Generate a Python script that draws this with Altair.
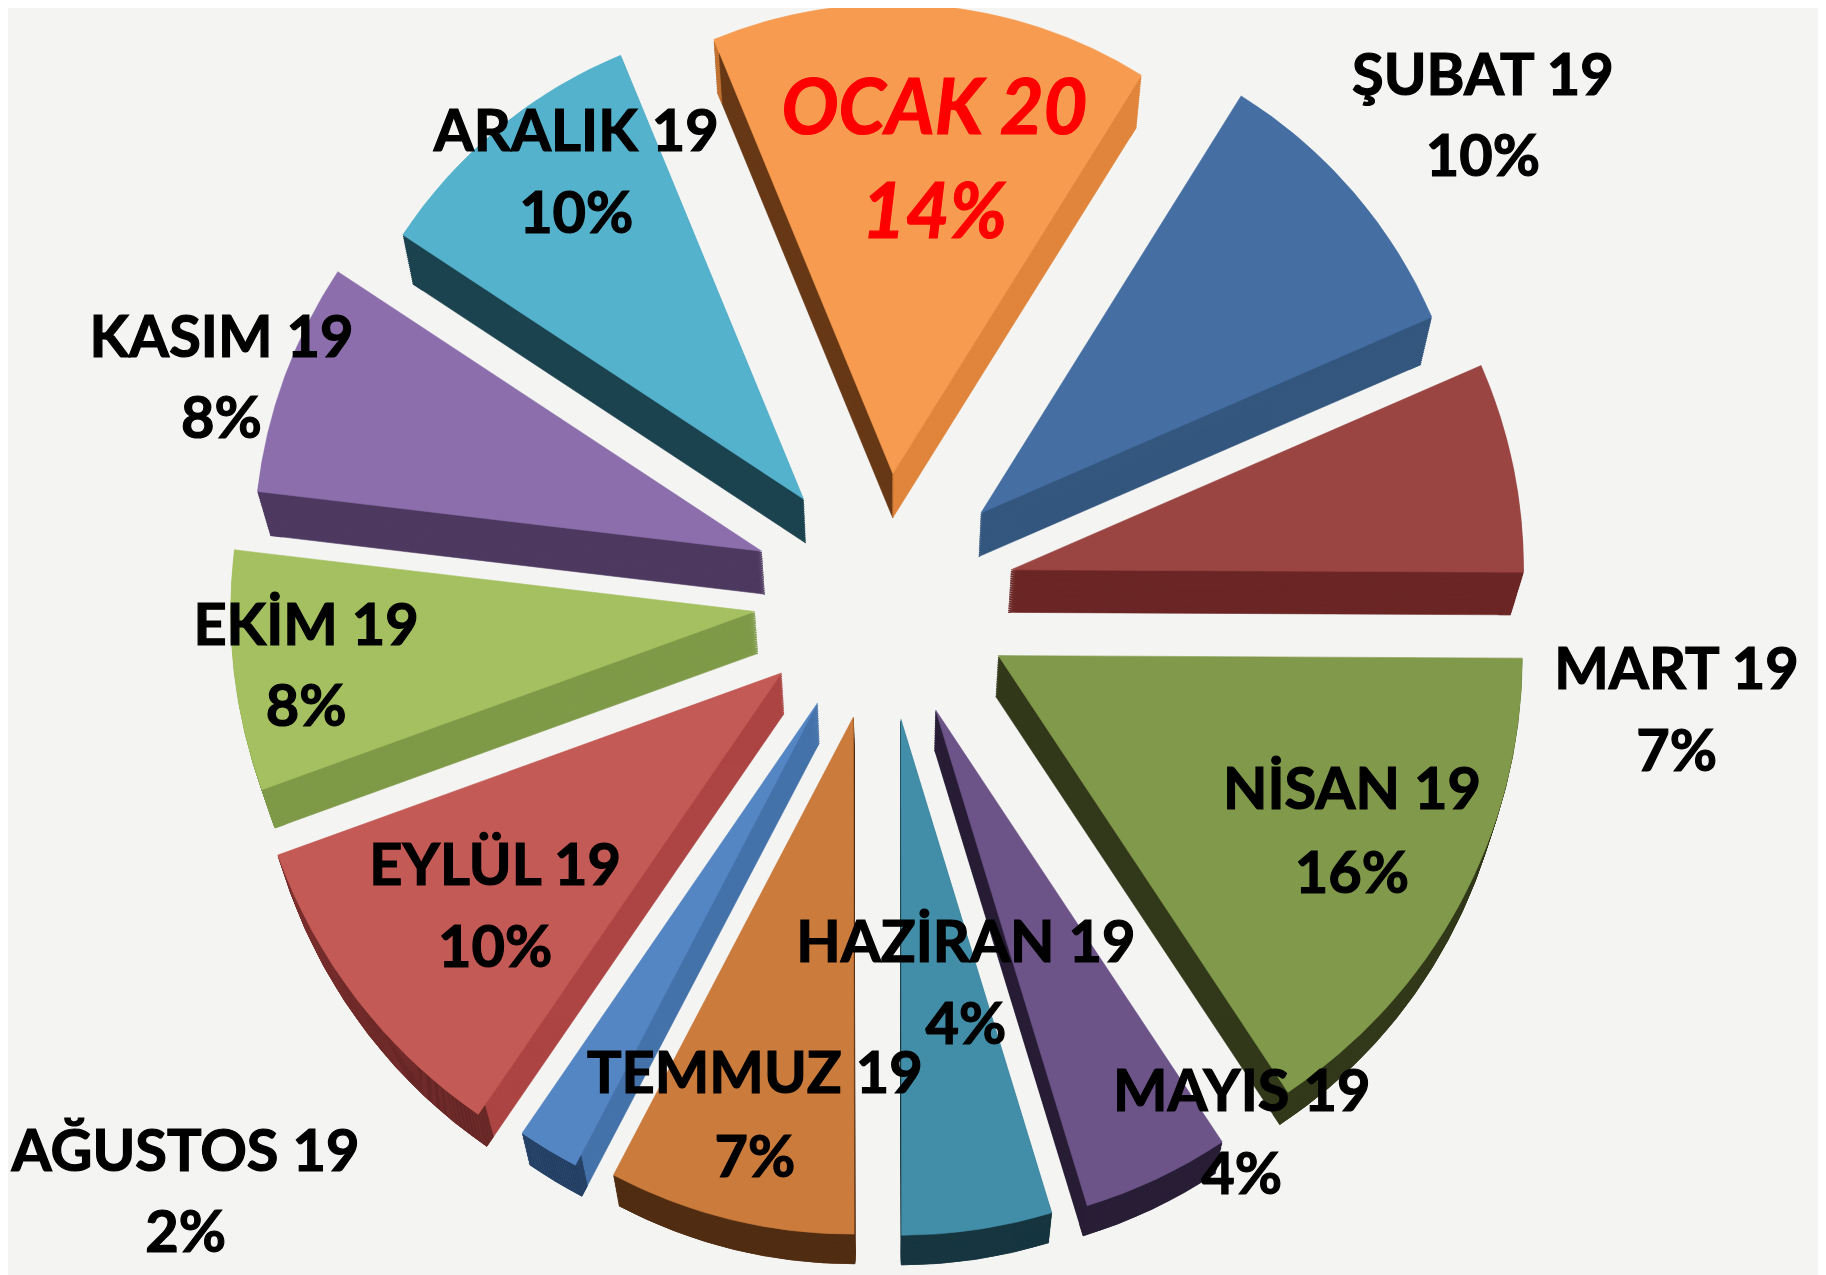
import math
import altair as alt
import pandas as pd

W, H = 1818, 1267
K = 1826 / 1568  # reference was read at 1568 wide

months = ["OCAK 20", "ŞUBAT 19", "MART 19", "NİSAN 19", "MAYIS 19", "HAZİRAN 19",
          "TEMMUZ 19", "AĞUSTOS 19", "EYLÜL 19", "EKİM 19", "KASIM 19", "ARALIK 19"]
percent_labels = ["14%", "10%", "7%", "16%", "4%", "4%", "7%", "2%", "10%", "8%", "8%", "10%"]
values = [15.1, 9.6, 6.6, 15.6, 4.6, 4.7, 7.7, 1.9, 9.9, 7.4, 7.4, 9.5]

apex_x = [767, 843, 869, 858, 804, 774, 733, 702, 671, 648, 654, 690]
apex_y = [406, 440, 489, 563, 610, 618, 616, 604, 578, 525, 473, 428]
radii = [405, 424, 442, 452, 447, 445, 446, 450, 462, 452, 438, 414]

top_colors = ["#f79b50", "#456fa3", "#9a4542", "#80994a", "#6c5388", "#428ea8",
              "#cb7c3c", "#5586c4", "#c45a55", "#a4c060", "#8b6eab", "#54b2cd"]
wall_start = ["#693a17", "#34577f", "#6b2625", "#333a1b", "#291f36", "#173640",
              "#512d13", "#4573aa", "#ac4644", "#7f9a48", "#4e3a60", "#1c4450"]
wall_end = ["#e0863c", "#34577f", "#6b2625", "#333a1b", "#291f36", "#173640",
            "#512d13", "#4573aa", "#ac4644", "#7f9a48", "#4e3a60", "#1c4450"]
wall_outer = ["#e0863c", "#34577f", "#6b2625", "#333a1b", "#291f36", "#173640",
              "#512d13", "#1e3553", "#5c2322", "#7f9a48", "#4e3a60", "#1c4450"]

name_x = [803, 1276, 1443, 1163, 1068, 830, 648, 157, 424, 261, 188, 494]
name_y = [90, 62, 574, 678, 938, 810, 923, 990, 743, 536, 288, 110]
pct_y = [180, 132, 645, 750, 1010, 880, 995, 1060, 814, 606, 358, 181]

START_DEG = -22.4
DEPTH_STEPS = 24


def bottom(px, py, r):
    return px - 0.023 * (px - 765 * K), py - 0.018 * (py - 2530 * K), r * 0.98


tops, walls = [], []
cum = 0.0
for i, v in enumerate(values):
    a, b = cum, cum + v
    cum = b
    px, py, r = apex_x[i] * K, apex_y[i] * K, radii[i] * K
    tops.append(dict(x=px, y=py, a=a, b=b, r0=0, r=r, c=top_colors[i]))
    bx, by, br = bottom(px, py, r)
    for s in range(DEPTH_STEPS, 0, -1):
        t = s / DEPTH_STEPS
        x = px + (bx - px) * t
        y = py + (by - py) * t
        rr = r + (br - r) * t
        m = (a + b) / 2
        walls.append(dict(x=x, y=y, a=a, b=m, r0=0, r=rr, c=wall_start[i]))
        walls.append(dict(x=x, y=y, a=m, b=b, r0=0, r=rr, c=wall_end[i]))
        walls.append(dict(x=x, y=y, a=a, b=b, r0=rr - 12, r=rr, c=wall_outer[i]))

x_scale = alt.Scale(domain=[4.5, 4.5 + W], range=[0, W], nice=False, zero=False)
y_scale = alt.Scale(domain=[8, 8 + H], range=[0, H], nice=False, zero=False)
start = math.radians(START_DEG)
theta_scale = alt.Scale(domain=[0, 100], range=[start, start + 2 * math.pi])
radius_scale = alt.Scale(type="linear", domain=[0, 700], range=[0, 700], zero=True)


def arcs(rows):
    return alt.Chart(pd.DataFrame(rows)).mark_arc(strokeWidth=0.6).encode(
        x=alt.X("x:Q", scale=x_scale, axis=None),
        y=alt.Y("y:Q", scale=y_scale, axis=None),
        theta=alt.Theta("a:Q", stack=None, scale=theta_scale),
        theta2=alt.Theta2("b:Q"),
        radius=alt.Radius("r:Q", scale=radius_scale),
        radius2=alt.Radius2("r0:Q"),
        color=alt.Color("c:N", scale=None),
        stroke=alt.Stroke("c:N", scale=None),
    )


def text_layer(xs, ys, texts, size=58, color="#000000", style="normal"):
    df = pd.DataFrame({"x": [q * K for q in xs], "y": [(q + 3) * K for q in ys], "t": texts})
    return alt.Chart(df).mark_text(
        font="Lato", fontWeight="bold", fontSize=size, color=color, fontStyle=style,
        align="center", baseline="middle", stroke=color, strokeWidth=1.2,
    ).encode(
        x=alt.X("x:Q", scale=x_scale, axis=None),
        y=alt.Y("y:Q", scale=y_scale, axis=None),
        text="t:N",
    )


chart = alt.layer(
    arcs(walls),
    arcs(tops),
    text_layer(name_x[1:], name_y[1:], months[1:]),
    text_layer(name_x[1:], pct_y[1:], percent_labels[1:]),
    text_layer(name_x[:1], name_y[:1], months[:1], size=76, color="#ff0000", style="italic"),
    text_layer(name_x[:1], pct_y[:1], percent_labels[:1], size=76, color="#ff0000", style="italic"),
).properties(
    width=W, height=H, background="#f4f4f3", padding=0,
    autosize=alt.AutoSizeParams(type="none"),
).configure_view(stroke=None)

chart.save("out.html", embed_options={"renderer": "svg", "actions": False})
